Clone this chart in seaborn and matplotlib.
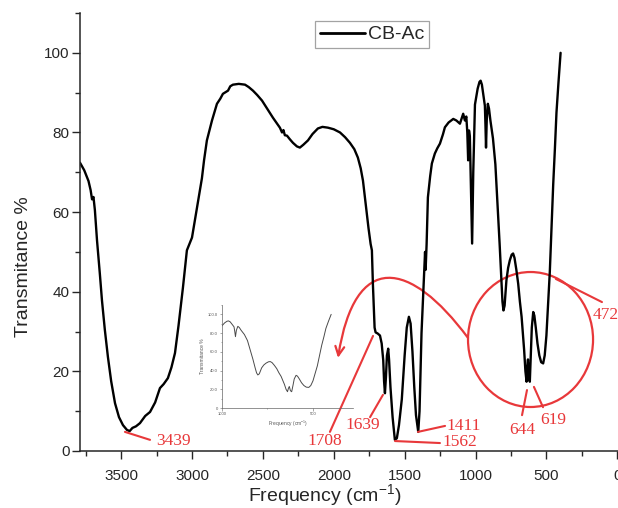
import matplotlib
matplotlib.use("Agg")
import matplotlib.pyplot as plt
import seaborn as sns
import pandas as pd
from matplotlib.patches import Ellipse, FancyArrowPatch
from matplotlib.path import Path
from matplotlib.ticker import MultipleLocator

# FTIR spectrum of CB-Ac
wavenumber = [3790, 3760, 3730, 3715, 3705, 3695, 3685, 3670, 3650, 3635, 3615, 3593, 3570, 3543,
              3515, 3487, 3459, 3440, 3420, 3395, 3367, 3330, 3296, 3260, 3226, 3200, 3170, 3145,
              3120, 3095, 3064, 3036, 3000, 2970, 2944, 2930, 2915, 2895, 2859, 2824, 2800, 2782,
              2760, 2746, 2730, 2711, 2670, 2626, 2600, 2570, 2540, 2506, 2470, 2429, 2400, 2380,
              2365, 2355, 2345, 2330, 2310, 2288, 2260, 2239, 2215, 2200, 2182, 2150, 2112, 2080,
              2041, 2000, 1956, 1920, 1886, 1855, 1830, 1810, 1794, 1775, 1755, 1740, 1731, 1724,
              1712, 1705, 1690, 1674, 1662, 1651, 1645, 1639, 1632, 1625, 1616, 1610, 1600, 1585,
              1569, 1555, 1540, 1520, 1500, 1485, 1470, 1458, 1445, 1432, 1420, 1404, 1395, 1381,
              1368, 1360, 1356, 1352, 1345, 1336, 1320, 1308, 1287, 1270, 1251, 1230, 1216, 1190,
              1157, 1135, 1110, 1095, 1087, 1075, 1065, 1058, 1052, 1046, 1040, 1032, 1024, 1016,
              1004, 985, 972, 964, 955, 945, 934, 930, 926, 921, 913, 905, 895, 877, 860, 845, 830,
              818, 810, 803, 795, 782, 770, 758, 745, 735, 725, 712, 699, 687, 675, 665, 657, 648,
              640, 635, 630, 624, 617, 610, 603, 593, 585, 575, 563, 550, 537, 523, 512, 500, 488,
              476, 464, 452, 440, 429, 415, 400]
transmittance = [72.4, 70.5, 67.8, 65.5, 63.2, 63.8, 60.5, 52.9, 44.5, 37.8, 30.5, 23.6, 17.5, 12.0,
                 8.5, 6.5, 5.3, 5.0, 5.8, 6.2, 7.0, 8.8, 9.8, 12.2, 15.8, 16.8, 18.3, 21.0,
                 24.6, 31.5, 41.0, 50.4, 53.6, 60.0, 65.4, 68.5, 73.0, 78.0, 83.0, 87.2, 88.5, 89.7,
                 90.2, 90.5, 91.6, 92.0, 92.2, 92.0, 91.4, 90.5, 89.4, 88.0, 86.0, 83.7, 82.2, 81.2,
                 80.0, 80.6, 79.3, 79.2, 78.3, 77.4, 76.5, 76.2, 76.9, 77.4, 78.0, 79.6, 81.0, 81.4,
                 81.2, 80.8, 80.0, 78.8, 77.4, 75.8, 73.7, 71.0, 67.9, 62.0, 56.0, 52.0, 50.4, 42.0,
                 31.0, 29.8, 29.5, 29.0, 27.0, 22.8, 17.5, 14.5, 18.5, 24.0, 25.7, 23.0, 16.0, 8.5,
                 2.8, 3.2, 6.5, 13.0, 24.0, 31.0, 33.7, 32.0, 25.0, 16.0, 9.0, 4.8, 10.0, 29.6,
                 40.0, 46.0, 50.0, 45.5, 52.0, 63.7, 69.0, 72.2, 74.7, 76.0, 77.2, 79.5, 81.3, 82.5,
                 83.4, 83.0, 82.2, 83.8, 84.7, 83.0, 84.0, 80.0, 73.0, 80.5, 79.0, 66.0, 52.1, 70.0,
                 87.0, 91.0, 92.7, 93.0, 92.0, 89.5, 86.7, 82.0, 76.2, 83.0, 87.2, 86.0, 83.0, 78.5,
                 72.0, 62.0, 52.0, 43.0, 37.5, 35.3, 36.5, 42.9, 46.0, 47.9, 49.3, 49.6, 48.5, 45.5,
                 42.0, 37.5, 33.7, 29.0, 25.3, 20.0, 17.4, 21.0, 23.0, 18.5, 17.4, 24.0, 31.0, 34.9,
                 34.0, 31.0, 27.0, 24.0, 22.3, 22.0, 24.0, 29.0, 37.0, 45.0, 56.0, 67.0, 76.0, 85.0,
                 92.5, 100.0]

peak_labels = ["3439", "1708", "1639", "1562", "1411", "644", "619", "472"]
series_name = "CB-Ac"

df = pd.DataFrame({"wavenumber": wavenumber, "transmittance": transmittance})

sns.set_theme(style="ticks")
plt.rcParams["font.family"] = ["Liberation Sans", "DejaVu Sans"]
plt.rcParams["mathtext.default"] = "regular"

RED = "#e8383a"
INK = "#262626"

fig = plt.figure(figsize=(6.18, 5.08), dpi=100)
ax = fig.add_axes([80 / 618, 57 / 508, 538 / 618, 438 / 508])

sns.lineplot(data=df, x="wavenumber", y="transmittance", ax=ax, color="black",
             lw=1.7, sort=False, estimator=None, label=series_name)

ax.set_xlim(3790, -5)
ax.set_ylim(0, 110)
ax.xaxis.set_major_locator(MultipleLocator(500))
ax.xaxis.set_minor_locator(MultipleLocator(250))
ax.set_yticks([0, 20, 40, 60, 80, 100])
ax.yaxis.set_minor_locator(MultipleLocator(10))
sns.despine(ax=ax)
for s in ("left", "bottom"):
    ax.spines[s].set_color(INK)
    ax.spines[s].set_linewidth(1.1)
ax.tick_params(axis="both", which="major", direction="out", length=6, width=1,
               color=INK, labelcolor=INK, labelsize=11)
ax.tick_params(axis="both", which="minor", direction="out", length=3.5, width=1, color=INK)
ax.tick_params(axis="x", which="major", pad=7)
ax.tick_params(axis="y", which="major", pad=1.5)

ax.set_xlabel("Frequency (cm$^{-1}$)", fontsize=14, color=INK)
ax.set_ylabel("Transmitance %", fontsize=14, color=INK)
ax.xaxis.set_label_coords(245 / 538, -0.07)
ax.yaxis.set_label_coords(-0.09, 0.42)

leg = ax.legend(loc="upper left", bbox_to_anchor=(0.437, 0.982), borderaxespad=0,
                fontsize=14, frameon=True, fancybox=False, handlelength=2.3,
                handletextpad=0.15, borderpad=0.25)
leg.get_frame().set_edgecolor("#8c8c8c")
leg.get_frame().set_linewidth(0.9)
leg.get_lines()[0].set_linewidth(2)

# red peak annotations: text position and leader line
label_pos = [(3127, 2.5), (2062, 2.5), (1794, 6.5), (1110, 2.3),
             (1081, 6.3), (672, 5.3), (454, 7.8), (171, 34.2)]
label_ha = ["center", "center", "center", "center", "center", "center", "center", "left"]
leader = [((3473, 4.8), (3296, 2.8)), ((1723, 28.9), (2027, 4.8)), ((1653, 14.1), (1744, 8.5)),
          ((1568, 2.5), (1251, 2.0)), ((1406, 4.8), (1215, 6.3)), ((637, 15.3), (672, 9.0)),
          ((588, 16.1), (524, 11.0)), ((433, 43.2), (108, 37.4))]
for lab, (tx, ty), ha, (p0, p1) in zip(peak_labels, label_pos, label_ha, leader):
    ax.plot([p0[0], p1[0]], [p0[1], p1[1]], color=RED, lw=1.5, clip_on=False)
    ax.text(tx, ty, lab, color=RED, fontsize=12.5, ha=ha, va="center",
            family=["Liberation Serif", "DejaVu Serif"], clip_on=False)

ax.add_patch(Ellipse((612, 28.0), 882, 33.9, fill=False, edgecolor=RED, lw=1.6, clip_on=False))
arc = Path([(1053, 28.4), (1462, 48.0), (1850, 50.5), (1970, 23.4)],
           [Path.MOVETO, Path.CURVE4, Path.CURVE4, Path.CURVE4])
ax.add_patch(FancyArrowPatch(path=arc, arrowstyle="->", mutation_scale=16,
                             color=RED, lw=1.6))

# inset: zoom on the fingerprint region
axin = fig.add_axes([222 / 618, 100 / 508, 131 / 618, 103 / 508])
sub = df[df["wavenumber"] <= 1005]
sns.lineplot(data=sub, x="wavenumber", y="transmittance", ax=axin, color="#4a4a4a",
             lw=0.7, sort=False, estimator=None, legend=False)
axin.set_xlim(1000, 280)
axin.set_ylim(0, 110)
axin.set_xticks([1000, 500])
axin.set_xticklabels(["1000", "500"])
axin.xaxis.set_minor_locator(MultipleLocator(250))
axin.set_yticks([0, 20, 40, 60, 80, 100])
axin.set_yticklabels(["0", "20.0", "40.0", "60.0", "80.0", "100.0"])
axin.yaxis.set_minor_locator(MultipleLocator(10))
sns.despine(ax=axin)
for s in ("left", "bottom"):
    axin.spines[s].set_color("#666666")
    axin.spines[s].set_linewidth(0.5)
axin.tick_params(which="major", direction="out", length=1.8, width=0.4, color="#666666",
                 labelcolor="#555555", labelsize=3, pad=1)
axin.tick_params(which="minor", direction="out", length=1, width=0.4, color="#666666")
axin.set_xlabel("Frequency (cm$^{-1}$)", fontsize=3.5, color="#555555", labelpad=2)
axin.set_ylabel("Transmitance %", fontsize=3.5, color="#555555", labelpad=2)
axin.patch.set_alpha(0)

fig.savefig("out.png", dpi=100)
